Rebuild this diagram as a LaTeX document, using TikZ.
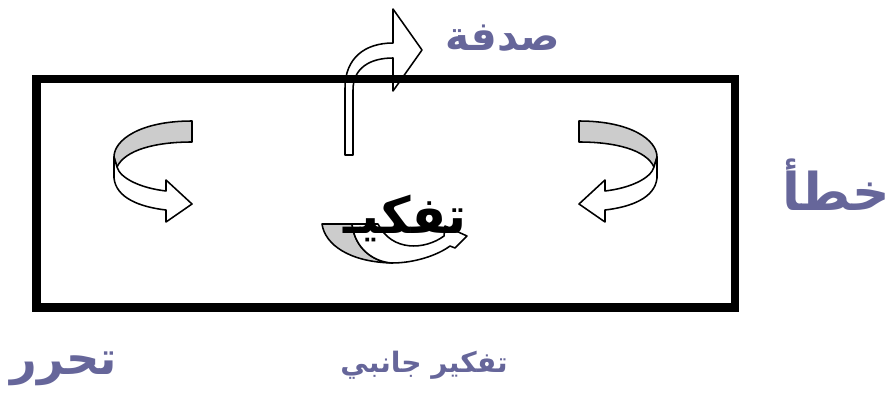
\documentclass[tikz,border=0pt]{standalone}
\usepackage{fontspec}
\TeXXeTstate=1
\newfontfamily\arabicfont[Script=Arabic]{DejaVu Sans}
\usepackage{tikz}
\usetikzlibrary{positioning}
\usepackage{xcolor}
\definecolor{wordslate}{HTML}{66669A}
\definecolor{bandgray}{HTML}{CCCCCC}

\tikzset{
  word/.style={text=wordslate, inner sep=0pt},
  band/.style={draw=black, line width=1.1pt, line join=round},
  curl/.pic={
    % back face
    \draw[band, fill=bandgray]
      (192,121) .. controls (140,121) and (114,140) .. (114,157) --
      (117,167) .. controls (125,150) and (155,142) .. (192,142) -- cycle;
    % front face with head
    \draw[band, fill=white]
      (114,157) -- (114,178) .. controls (116,198) and (140,207) .. (166,210) --
      (166,222) -- (192,204) -- (166,180) --
      (166,191) .. controls (140,188) and (120,178) .. (117,167) -- cycle;
  }
}

\begin{document}
\begin{tikzpicture}[x=0.025cm, y=-0.025cm]
  \useasboundingbox (0,0) rectangle (894,394);

  % Up and right arrow
  \draw[band, fill=white]
    (345,155) -- (345,88) .. controls (345,58) and (365,43) .. (393,43) --
    (393,9) -- (422,50) -- (393,91) --
    (393,58) .. controls (370,58) and (353,68) .. (353,90) -- (353,155) -- cycle;

  % Frame
  \draw[line width=5.7pt] (36.5,79) rectangle (734.5,307.5);

  % Side arrows
  \pic at (0,0) {curl};
  \pic[xscale=-1] at (771,0) {curl};

  % Small arrow under the middle word
  \draw[band, fill=bandgray]
    (322,224) -- (352,224) .. controls (355,250) and (375,262) .. (392,263)
    .. controls (350,262) and (325,245) .. (322,224) -- cycle;
  \draw[band, fill=white]
    (352,224) .. controls (355,250) and (375,262) .. (392,263)
    .. controls (415,263) and (438,255) .. (450,246) --
    (455,248) -- (467,236) -- (445,226) -- (444,236)
    .. controls (425,250) and (392,252) .. (378,224) -- cycle;

  % Words
  \node[font=\arabicfont\bfseries\fontsize{36}{42}\selectfont, inner sep=0pt]
    (tafkir) at (405,218) {\beginR تفكيـ\endR};
  \node[word, font=\arabicfont\bfseries\fontsize{29}{34}\selectfont]
    (sadfa) at (503,38) {\beginR صدفة\endR};
  \node[word, font=\arabicfont\bfseries\fontsize{37}{44}\selectfont]
    (khata) at (836,185) {\beginR خطأ\endR};
  \node[word, font=\arabicfont\bfseries\fontsize{33}{40}\selectfont]
    (taharrur) at (64,369) {\beginR تحرر\endR};
  \node[word, font=\arabicfont\bfseries\fontsize{20}{24}\selectfont]
    (janibi) at (424,365) {\beginR تفكير جانبي\endR};
\end{tikzpicture}
\end{document}
